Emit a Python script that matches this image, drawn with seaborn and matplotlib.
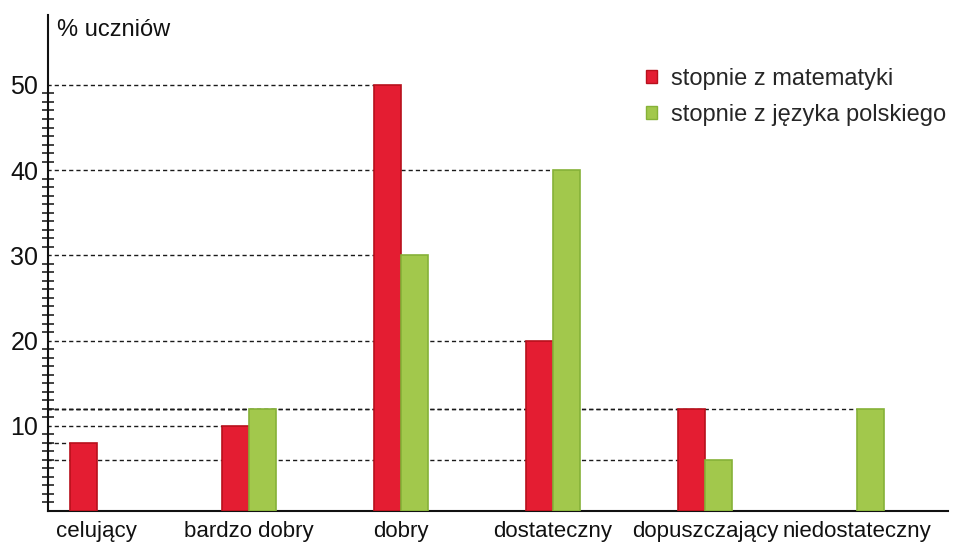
import pandas as pd
import numpy as np
import matplotlib
matplotlib.use("Agg")
import matplotlib.pyplot as plt
import seaborn as sns
from matplotlib.ticker import FixedLocator

# dane
oceny = ['celujący', 'bardzo dobry', 'dobry', 'dostateczny', 'dopuszczający', 'niedostateczny']
matematyka = [8, 10, 50, 20, 12, 0]
polski = [0, 12, 30, 40, 6, 12]
serie = ['stopnie z matematyki', 'stopnie z języka polskiego']

df = pd.DataFrame({
    'ocena': oceny * 2,
    'procent': matematyka + polski,
    'seria': [serie[0]] * len(oceny) + [serie[1]] * len(oceny),
})

sns.set_theme(style='white')
plt.rcParams['font.family'] = ['Liberation Sans', 'DejaVu Sans']

kolory = {serie[0]: '#e41d32', serie[1]: '#a2c84c'}
krawedzie = {serie[0]: '#b8101c', serie[1]: '#86b238'}

fig = plt.figure(figsize=(9.59, 5.44), dpi=100)
ax = fig.add_axes([0.050, 0.0607, 0.939, 0.9117])

sns.barplot(data=df, x='ocena', y='procent', hue='seria', order=oceny,
            hue_order=serie, palette=kolory, width=0.355, saturation=1,
            ax=ax, zorder=3)

# obramowanie słupków + linie przerywane do wierzchołków
for cont, s in zip(ax.containers, serie):
    for bar in cont:
        bar.set_edgecolor(krawedzie[s])
        bar.set_linewidth(1.2)
        h = bar.get_height()
        if h > 0:
            ax.plot([-0.33, bar.get_x()], [h, h], color='#1a1a1a', lw=1.0,
                    dashes=(3, 2.2), zorder=1, clip_on=False)
        else:
            bar.set_visible(False)

ax.set_xlim(-0.322, 5.6)
ax.set_ylim(0, 58.2)
ax.set_xlabel('')
ax.set_ylabel('')

ax.yaxis.set_major_locator(FixedLocator([10, 20, 30, 40, 50]))
ax.yaxis.set_minor_locator(FixedLocator([v for v in range(1, 51) if v % 10]))
ax.tick_params(axis='y', which='major', direction='inout', length=11, width=1.6,
               color='#d4561c', pad=1.5, labelsize=18, labelcolor='#111111')
ax.tick_params(axis='y', which='minor', direction='inout', length=8, width=1.1,
               color='#111111', left=True)
ax.tick_params(axis='x', length=0, pad=7, labelsize=16, labelcolor='#111111')

for side in ['top', 'right']:
    ax.spines[side].set_visible(False)
for side in ['left', 'bottom']:
    ax.spines[side].set_color('#111111')
    ax.spines[side].set_linewidth(1.5)

ax.text(0.01, 0.97, '% uczniów', transform=ax.transAxes, fontsize=17,
        va='center', ha='left', color='#111111')

leg = ax.legend(loc='upper left', bbox_to_anchor=(0.641, 0.936), frameon=False,
                fontsize=17, handlelength=0.45, handleheight=0.45,
                handletextpad=0.6, labelspacing=0.6)
for h, s in zip(leg.legend_handles, serie):
    h.set_edgecolor(krawedzie[s])

fig.savefig('out.png', dpi=100)
